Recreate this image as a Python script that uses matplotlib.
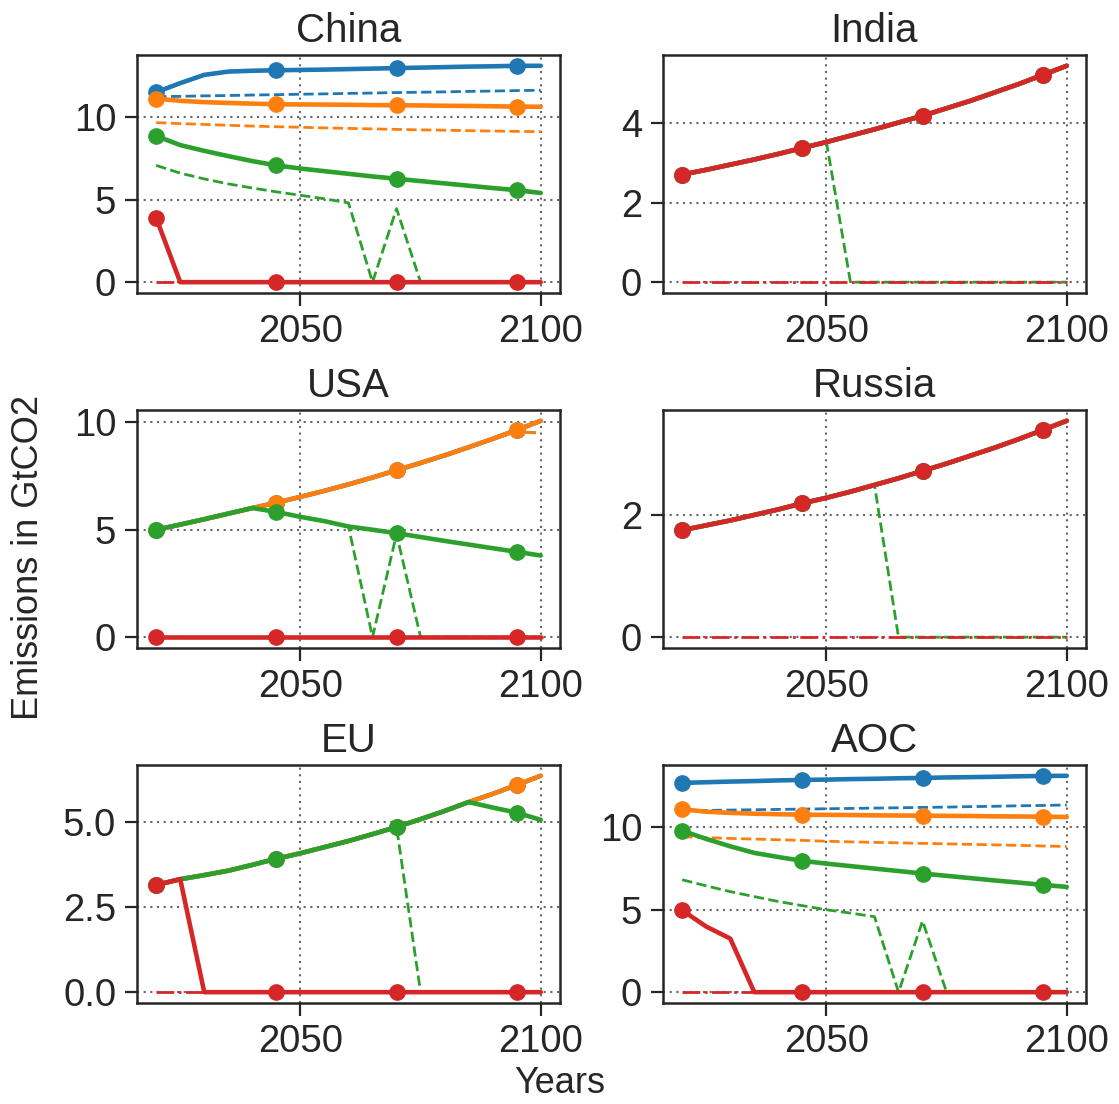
import matplotlib.pyplot as plt
import seaborn as sns

# style ------------------------------------------------
sns.set_theme(style="ticks")
plt.rcParams['font.family'] = ['Liberation Sans', 'DejaVu Sans']

# data --------------------------------------------------
years = [2020, 2025, 2030, 2035, 2040, 2045, 2050, 2055, 2060,
         2065, 2070, 2075, 2080, 2085, 2090, 2095, 2100]
zeros = [0.0] * 17

# China
china_blue = [11.5, 12.05, 12.55, 12.75, 12.8, 12.83, 12.85, 12.87, 12.9,
              12.93, 12.96, 12.99, 13.02, 13.05, 13.07, 13.1, 13.1]
china_blue_d = [11.23, 11.25, 11.28, 11.3, 11.33, 11.35, 11.38, 11.4, 11.43,
                11.45, 11.48, 11.5, 11.52, 11.55, 11.57, 11.6, 11.62]
china_orange = [11.11, 10.98, 10.9, 10.85, 10.81, 10.77, 10.76, 10.75, 10.74,
                10.72, 10.71, 10.7, 10.68, 10.67, 10.65, 10.63, 10.62]
china_orange_d = [9.66, 9.6, 9.55, 9.5, 9.45, 9.41, 9.38, 9.34, 9.31,
                  9.28, 9.25, 9.22, 9.2, 9.17, 9.15, 9.13, 9.11]
china_green = [8.85, 8.3, 7.95, 7.63, 7.33, 7.07, 6.88, 6.72, 6.56,
               6.4, 6.26, 6.12, 5.98, 5.84, 5.7, 5.57, 5.4]
china_green_d = [7.07, 6.6, 6.25, 5.95, 5.7, 5.47, 5.26, 5.05, 4.8,
                 0.0, 4.45, 0.0, 0.0, 0.0, 0.0, 0.0, 0.0]
china_red = [3.89, 0.0, 0.0, 0.0, 0.0, 0.0, 0.0, 0.0, 0.0,
             0.0, 0.0, 0.0, 0.0, 0.0, 0.0, 0.0, 0.0]

# India
india_base = [2.71, 2.83, 2.96, 3.09, 3.23, 3.38, 3.53, 3.69, 3.85,
              4.02, 4.19, 4.38, 4.57, 4.78, 4.99, 5.22, 5.45]
india_green_d = [2.71, 2.83, 2.96, 3.09, 3.23, 3.38, 3.53, 0.0, 0.0,
                 0.0, 0.0, 0.0, 0.0, 0.0, 0.0, 0.0, 0.0]

# USA
usa_orange = [5.0, 5.24, 5.49, 5.75, 6.01, 6.26, 6.53, 6.81, 7.11,
              7.43, 7.77, 8.11, 8.46, 8.84, 9.23, 9.64, 10.07]
usa_orange_d = [5.0, 5.24, 5.49, 5.75, 6.01, 6.26, 6.53, 6.81, 7.11,
                7.43, 7.77, 8.11, 8.46, 8.84, 9.23, 9.56, 9.5]
usa_green = [5.0, 5.24, 5.49, 5.75, 6.01, 5.83, 5.6, 5.4, 5.15,
             5.0, 4.84, 4.66, 4.48, 4.31, 4.14, 3.97, 3.8]
usa_green_d = [5.0, 5.24, 5.49, 5.75, 6.01, 5.83, 5.6, 5.4, 5.15,
               0.0, 4.8, 0.0, 0.0, 0.0, 0.0, 0.0, 0.0]

# Russia
russia_base = [1.75, 1.83, 1.91, 2.0, 2.09, 2.19, 2.28, 2.38, 2.49,
               2.6, 2.72, 2.84, 2.97, 3.1, 3.24, 3.39, 3.54]
russia_green_d = [1.75, 1.83, 1.91, 2.0, 2.09, 2.19, 2.28, 2.38, 2.49,
                  0.0, 0.0, 0.0, 0.0, 0.0, 0.0, 0.0, 0.0]

# EU
eu_orange = [3.14, 3.31, 3.43, 3.56, 3.73, 3.91, 4.07, 4.25, 4.43,
             4.63, 4.84, 5.07, 5.31, 5.57, 5.81, 6.07, 6.34]
eu_green = [3.14, 3.31, 3.43, 3.56, 3.73, 3.91, 4.07, 4.25, 4.43,
            4.63, 4.84, 5.07, 5.31, 5.57, 5.41, 5.26, 5.05]
eu_green_d = [3.14, 3.31, 3.43, 3.56, 3.73, 3.91, 4.07, 4.25, 4.43,
              4.63, 4.84, 0.0, 0.0, 0.0, 0.0, 0.0, 0.0]
eu_red = [3.14, 3.31, 0.0, 0.0, 0.0, 0.0, 0.0, 0.0, 0.0,
          0.0, 0.0, 0.0, 0.0, 0.0, 0.0, 0.0, 0.0]

# AOC
aoc_blue = [12.7, 12.74, 12.78, 12.81, 12.85, 12.88, 12.9, 12.93, 12.95,
            12.98, 13.0, 13.03, 13.05, 13.07, 13.1, 13.12, 13.13]
aoc_blue_d = [11.0, 11.03, 11.05, 11.07, 11.09, 11.11, 11.13, 11.15, 11.17,
              11.19, 11.21, 11.23, 11.26, 11.28, 11.31, 11.33, 11.36]
aoc_orange = [11.1, 10.95, 10.88, 10.83, 10.8, 10.77, 10.76, 10.75, 10.73,
              10.72, 10.71, 10.7, 10.69, 10.67, 10.66, 10.65, 10.63]
aoc_orange_d = [9.43, 9.38, 9.33, 9.29, 9.25, 9.21, 9.16, 9.12, 9.09,
                9.06, 9.03, 9.0, 8.97, 8.94, 8.91, 8.87, 8.84]
aoc_green = [9.8, 9.3, 8.85, 8.45, 8.2, 7.97, 7.8, 7.65, 7.5,
             7.35, 7.2, 7.06, 6.92, 6.78, 6.65, 6.51, 6.39]
aoc_green_d = [6.82, 6.45, 6.1, 5.8, 5.5, 5.25, 5.0, 4.8, 4.58,
               0.0, 4.32, 0.0, 0.0, 0.0, 0.0, 0.0, 0.0]
aoc_red = [4.97, 3.98, 3.25, 0.0, 0.0, 0.0, 0.0, 0.0, 0.0,
           0.0, 0.0, 0.0, 0.0, 0.0, 0.0, 0.0, 0.0]

countries = ['China', 'India', 'USA', 'Russia', 'EU', 'AOC']
# per country: (solid, dashed) for blue, orange, green, red
series = {
    'China': [(china_blue, china_blue_d), (china_orange, china_orange_d),
              (china_green, china_green_d), (china_red, zeros)],
    'India': [(india_base, india_base), (india_base, india_base),
              (india_base, india_green_d), (india_base, zeros)],
    'USA': [(usa_orange, usa_orange_d), (usa_orange, usa_orange_d),
            (usa_green, usa_green_d), (zeros, zeros)],
    'Russia': [(russia_base, russia_base), (russia_base, russia_base),
               (russia_base, russia_green_d), (russia_base, zeros)],
    'EU': [(eu_orange, eu_orange), (eu_orange, eu_orange),
           (eu_green, eu_green_d), (eu_red, zeros)],
    'AOC': [(aoc_blue, aoc_blue_d), (aoc_orange, aoc_orange_d),
            (aoc_green, aoc_green_d), (aoc_red, zeros)],
}
yticks = {
    'China': [0, 5, 10], 'India': [0, 2, 4], 'USA': [0, 5, 10],
    'Russia': [0, 2], 'EU': [0.0, 2.5, 5.0], 'AOC': [0, 5, 10],
}
colors = ['#1f77b4', '#ff7f0e', '#2ca02c', '#d62728']

# plot --------------------------------------------------
fig, axes = plt.subplots(3, 2, figsize=(11.19, 11.04), dpi=100)
fig.subplots_adjust(left=0.1224, right=0.9705, top=0.9502, bottom=0.0915,
                    wspace=0.2435, hspace=0.4916)

for ax, name in zip(axes.flat, countries):
    for c, (solid, dashed) in zip(colors, series[name]):
        ax.plot(years, solid, color=c, lw=3.3, marker='o', ms=11, markevery=5)
        ls = '-.' if c == '#d62728' else '--'
        ax.plot(years, dashed, color=c, lw=2.0, ls=ls)
    ax.set_title(name, fontsize=29, pad=9)
    ax.set_xticks([2050, 2100])
    ax.set_yticks(yticks[name])
    if name == 'EU':
        ax.set_yticklabels(['0.0', '2.5', '5.0'])
    ax.tick_params(labelsize=27.5, length=9, width=1.6, color='#262626', pad=6)
    ax.grid(True, ls=(0, (1, 2.2)), color='#666666', lw=1.5)
    for sp in ax.spines.values():
        sp.set_linewidth(1.8)
        sp.set_color('#262626')

fig.text(0.5, 0.003, 'Years', ha='center', va='bottom', fontsize=26)
fig.text(0.01, 0.495, 'Emissions in GtCO2', ha='left', va='center',
         rotation=90, fontsize=26)

plt.savefig('out.png', dpi=100)
